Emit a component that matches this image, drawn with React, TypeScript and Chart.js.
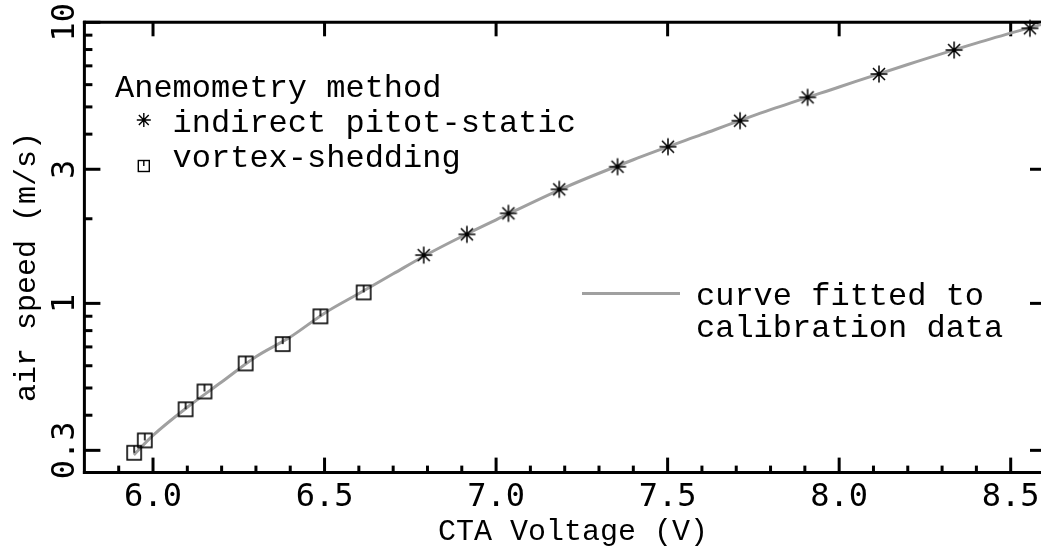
import React, { useEffect, useRef } from "react";
import { Chart, registerables } from "chart.js";
Chart.register(...registerables);

// ---- data ----
const pitotVoltage = [6.789, 6.915, 7.036, 7.184, 7.354, 7.501, 7.711, 7.908, 8.116, 8.335, 8.556];
const pitotSpeed = [1.485, 1.76, 2.091, 2.545, 3.063, 3.608, 4.465, 5.408, 6.546, 7.968, 9.52];

const vortexVoltage = [5.945, 5.976, 6.095, 6.15, 6.27, 6.378, 6.488, 6.614];
const vortexSpeed = [0.294, 0.3255, 0.42, 0.486, 0.6115, 0.7165, 0.899, 1.094];

const fitVoltage = [5.944, 6.0, 6.1, 6.2, 6.3, 6.4, 6.5, 6.6, 6.7, 6.8, 6.9, 7.0, 7.2, 7.4, 7.6, 7.8, 8.0, 8.2, 8.4, 8.6];
const fitSpeed = [0.289, 0.339, 0.427, 0.525, 0.646, 0.759, 0.923, 1.084, 1.274, 1.496, 1.73, 1.982, 2.582, 3.243, 3.99, 4.887, 5.888, 7.079, 8.433, 9.908];

const xMajorTicks = [6.0, 6.5, 7.0, 7.5, 8.0, 8.5];
const xTickLabels = ["6.0", "6.5", "7.0", "7.5", "8.0", "8.5"];
const xMinorTicks = [5.9, 6.1, 6.2, 6.3, 6.4, 6.6, 6.7, 6.8, 6.9, 7.1, 7.2, 7.3, 7.4, 7.6, 7.7, 7.8, 7.9, 8.1, 8.2, 8.3, 8.4];
const yMajorTicks = [0.3, 1, 3, 10];
const yTickLabels = ["0.3", "1", "3", "10"];
const yMinorTicks = [0.4, 0.5, 0.6, 0.7, 0.8, 0.9, 2, 4, 5, 6, 7, 8, 9];

const xTitle = "CTA Voltage (V)";
const yTitle = "air speed (m/s)";
const legendTitle = "Anemometry method";
const pitotLabel = "indirect pitot-static";
const vortexLabel = "vortex-shedding";
const fitLabel = ["curve fitted to", "calibration data"];

const CURVE = "#a0a0a0";
const MONO = '"Liberation Mono", "DejaVu Sans Mono", monospace';
const DIGITS = '"DejaVu Sans Mono", "Liberation Mono", monospace';

function drawSquareMarker(ctx: CanvasRenderingContext2D, cx: number, cy: number, s: number, lw: number) {
  ctx.save();
  ctx.strokeStyle = "#000";
  ctx.lineWidth = lw;
  ctx.strokeRect(cx - s / 2, cy - s / 2, s, s);
  ctx.beginPath();
  ctx.moveTo(cx, cy - s / 2);
  ctx.lineTo(cx, cy);
  ctx.stroke();
  ctx.restore();
}

function drawStar(ctx: CanvasRenderingContext2D, cx: number, cy: number, r: number, lw: number) {
  ctx.save();
  ctx.strokeStyle = "#000";
  ctx.lineWidth = lw;
  ctx.beginPath();
  for (let k = 0; k < 4; k++) {
    const a = (k * Math.PI) / 4;
    ctx.moveTo(cx - Math.cos(a) * r, cy - Math.sin(a) * r);
    ctx.lineTo(cx + Math.cos(a) * r, cy + Math.sin(a) * r);
  }
  ctx.stroke();
  ctx.restore();
}

const framePlugin = {
  id: "frameAxes",
  beforeDatasetsDraw(chart: any) {
    const { ctx, chartArea: a, scales } = chart;
    const x = scales.x;
    const y = scales.y;
    ctx.save();
    ctx.strokeStyle = "#000";
    ctx.lineWidth = 3;
    ctx.lineCap = "butt";
    const seg = (x1: number, y1: number, x2: number, y2: number) => {
      ctx.beginPath();
      ctx.moveTo(x1, y1);
      ctx.lineTo(x2, y2);
      ctx.stroke();
    };
    // frame: left, top, bottom (the right side lies beyond the visible page)
    seg(a.left, a.top - 1.5, a.left, a.bottom + 1.5);
    seg(a.left - 1.5, a.top, a.right, a.top);
    seg(a.left - 1.5, a.bottom, a.right, a.bottom);

    xMajorTicks.forEach((v) => {
      const px = x.getPixelForValue(v);
      seg(px, a.bottom, px, a.bottom - 15);
      seg(px, a.top, px, a.top + 14);
    });
    xMinorTicks.forEach((v) => {
      const px = x.getPixelForValue(v);
      seg(px, a.bottom, px, a.bottom - 7);
    });
    yMajorTicks.forEach((v) => {
      const py = y.getPixelForValue(v);
      seg(a.left, py, a.left + 16, py);
      seg(a.right, py, a.right - 15, py);
    });
    yMinorTicks.forEach((v) => {
      const py = y.getPixelForValue(v);
      seg(a.left, py, a.left + 8, py);
    });

    ctx.fillStyle = "#000";
    ctx.font = `32px ${DIGITS}`;
    ctx.textAlign = "center";
    ctx.textBaseline = "alphabetic";
    xMajorTicks.forEach((v, i) => {
      ctx.fillText(xTickLabels[i], x.getPixelForValue(v), a.bottom + 33);
    });
    yMajorTicks.forEach((v, i) => {
      ctx.save();
      ctx.translate(a.left - 10, y.getPixelForValue(v));
      ctx.rotate(-Math.PI / 2);
      ctx.fillText(yTickLabels[i], 0, 0);
      ctx.restore();
    });

    ctx.font = `30px ${MONO}`;
    ctx.fillText(xTitle, 573, 540);
    ctx.save();
    ctx.translate(35, 267);
    ctx.rotate(-Math.PI / 2);
    ctx.fillText(yTitle, 0, 0);
    ctx.restore();
    ctx.restore();
  },
  afterDatasetsDraw(chart: any) {
    const { ctx } = chart;
    ctx.save();
    ctx.fillStyle = "#000";
    ctx.font = `32px ${MONO}`;
    ctx.textAlign = "left";
    ctx.textBaseline = "alphabetic";
    const col = 19.2;
    const x0 = 115;
    ctx.fillText(legendTitle, x0, 97);
    drawStar(ctx, x0 + col * 1.5, 120, 7, 1.4);
    ctx.fillText(pitotLabel, x0 + col * 3, 132);
    drawSquareMarker(ctx, x0 + col * 1.5, 166, 11, 1.4);
    ctx.fillText(vortexLabel, x0 + col * 3, 167);

    ctx.strokeStyle = CURVE;
    ctx.lineWidth = 3;
    ctx.beginPath();
    ctx.moveTo(582, 293.5);
    ctx.lineTo(680, 293.5);
    ctx.stroke();
    ctx.fillText(fitLabel[0], 696, 305);
    ctx.fillText(fitLabel[1], 696, 337);
    ctx.restore();
  },
};

export default function App() {
  const ref = useRef<HTMLCanvasElement>(null);
  useEffect(() => {
    const canvas = ref.current;
    if (!canvas) return;
    const sq = document.createElement("canvas");
    sq.width = 18;
    sq.height = 18;
    drawSquareMarker(sq.getContext("2d")!, 9, 9, 14, 1.6);
    const st = document.createElement("canvas");
    st.width = 22;
    st.height = 22;
    drawStar(st.getContext("2d")!, 11, 11, 8.5, 1.5);

    const chart = new Chart(canvas, {
      type: "scatter",
      data: {
        datasets: [
          {
            label: pitotLabel,
            data: pitotVoltage.map((v, i) => ({ x: v, y: pitotSpeed[i] })),
            pointStyle: st,
            pointRadius: 11,
            showLine: false,
            clip: false,
            order: 0,
          },
          {
            label: vortexLabel,
            data: vortexVoltage.map((v, i) => ({ x: v, y: vortexSpeed[i] })),
            pointStyle: sq,
            pointRadius: 9,
            showLine: false,
            clip: false,
            order: 1,
          },
          {
            label: fitLabel.join(" "),
            data: fitVoltage.map((v, i) => ({ x: v, y: fitSpeed[i] })),
            showLine: true,
            borderColor: CURVE,
            borderWidth: 3,
            pointRadius: 0,
            cubicInterpolationMode: "monotone",
            clip: false,
            order: 2,
          },
        ],
      } as any,
      options: {
        responsive: false,
        animation: false,
        devicePixelRatio: 1,
        layout: { padding: { left: 84.4, top: 22.3, right: 15, bottom: 80.4 } },
        scales: {
          x: { type: "linear", min: 5.8, max: 8.6, display: false },
          y: { type: "logarithmic", min: 0.25, max: 10, display: false },
        },
        plugins: { legend: { display: false }, tooltip: { enabled: false } },
      } as any,
      plugins: [framePlugin],
    });
    return () => chart.destroy();
  }, []);
  return (
    <div style={{ position: "fixed", left: 0, top: 0, width: 1041, height: 553, overflow: "hidden", background: "#fff" }}>
      <canvas ref={ref} width={1060} height={553} style={{ display: "block" }} />
    </div>
  );
}
